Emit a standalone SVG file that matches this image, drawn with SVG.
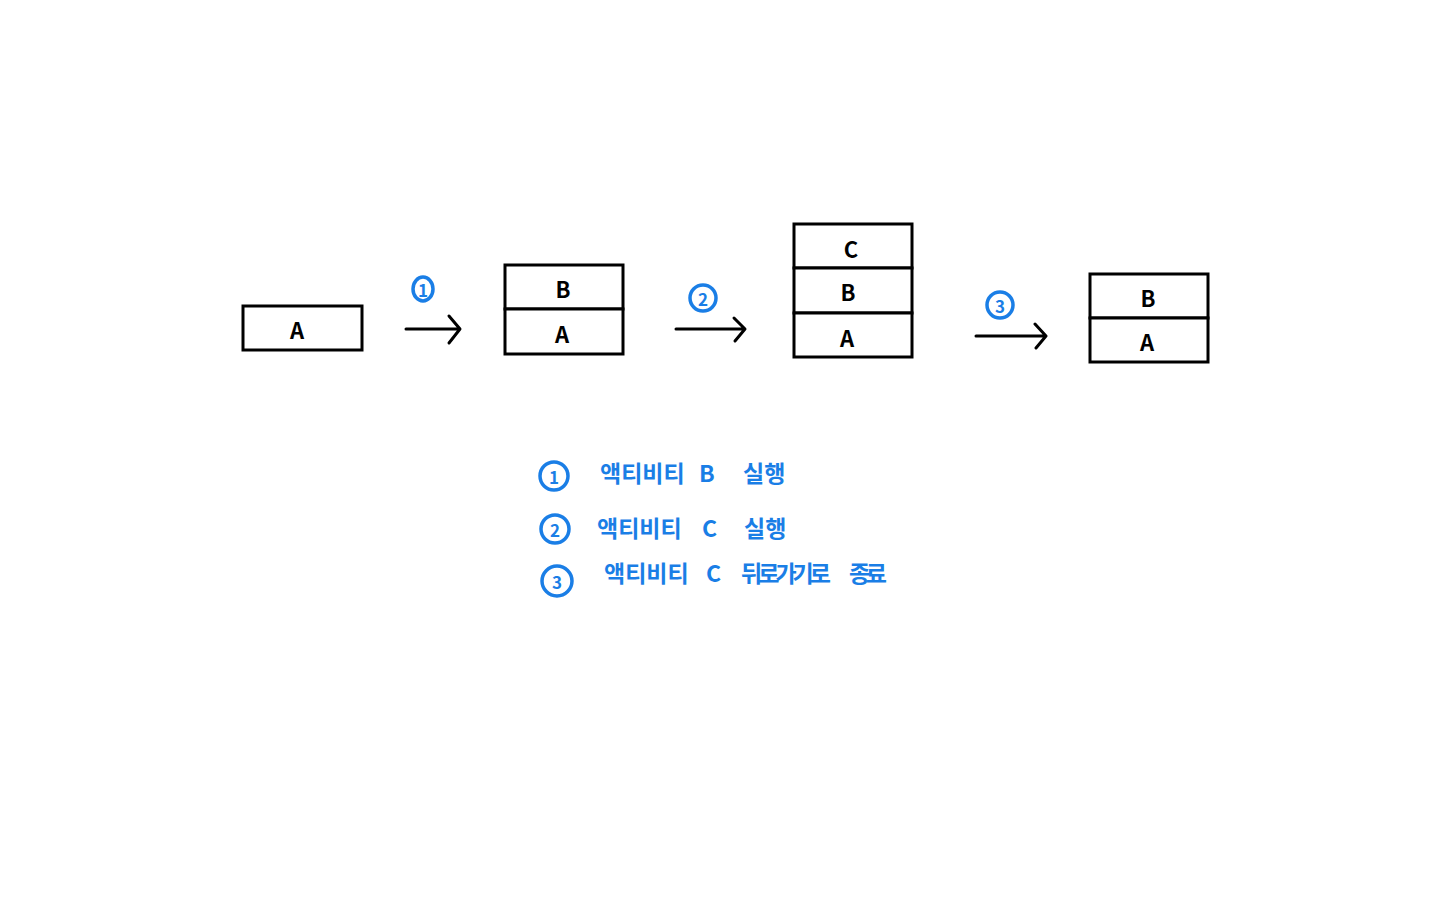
<svg xmlns="http://www.w3.org/2000/svg" width="1440" height="900" viewBox="0 0 1440 900">
<defs>
<style>
.box{fill:#fff;stroke:#000;stroke-width:3}
.lbl{font-family:"Noto Sans CJK KR","Noto Sans",sans-serif;font-weight:bold;font-size:22px;fill:#000;text-anchor:middle;dominant-baseline:central}
.conn{stroke:#000;stroke-width:3;fill:none;stroke-linecap:round;stroke-linejoin:round}
.num{fill:none;stroke:#1a7ee6;stroke-width:3.5}
.numt{font-family:"Noto Sans CJK KR","Noto Sans",sans-serif;font-weight:bold;font-size:17px;fill:#1a7ee6;text-anchor:middle;dominant-baseline:central}
.leg{font-family:"Noto Sans CJK KR","Noto Sans",sans-serif;font-weight:bold;font-size:23px;fill:#1a7ee6;dominant-baseline:central}
</style>
</defs>
<rect width="1440" height="900" fill="#fff"/>
<g id="stack1">
<rect class="box" x="243" y="306" width="119" height="44"/>
<text class="lbl" x="297" y="329">A</text>
</g>
<g id="stack2">
<rect class="box" x="505" y="265" width="118" height="44"/>
<text class="lbl" x="563" y="288">B</text>
<rect class="box" x="505" y="309" width="118" height="45"/>
<text class="lbl" x="562" y="333">A</text>
</g>
<g id="stack3">
<rect class="box" x="794" y="224" width="118" height="44"/>
<text class="lbl" x="851" y="248">C</text>
<rect class="box" x="794" y="268" width="118" height="45"/>
<text class="lbl" x="848" y="291">B</text>
<rect class="box" x="794" y="313" width="118" height="44"/>
<text class="lbl" x="847" y="337">A</text>
</g>
<g id="stack4">
<rect class="box" x="1090" y="274" width="118" height="44"/>
<text class="lbl" x="1148" y="297">B</text>
<rect class="box" x="1090" y="318" width="118" height="44"/>
<text class="lbl" x="1147" y="341">A</text>
</g>
<g id="connectors">
<path class="conn" d="M406 329 H459 M449 316 L460 329 L449 343"/>
<path class="conn" d="M676 329 H744 M734 318 L745 329 L735 341"/>
<path class="conn" d="M976 336 H1045 M1035 324 L1046 336 L1036 348"/>
</g>
<g id="step-labels">
<ellipse class="num" cx="423" cy="289" rx="10" ry="12"/>
<text class="numt" x="423" y="289">1</text>
<circle class="num" cx="703" cy="298" r="13"/>
<text class="numt" x="703" y="298">2</text>
<circle class="num" cx="1000" cy="305" r="13"/>
<text class="numt" x="1000" y="305">3</text>
</g>
<g id="legend">
<circle class="num" cx="554" cy="476" r="14"/>
<text class="numt" x="554" y="476">1</text>
<text class="leg" y="472"><tspan x="600">액티비티</tspan><tspan x="699">B</tspan><tspan x="743">실행</tspan></text>
<circle class="num" cx="555" cy="529" r="14"/>
<text class="numt" x="555" y="529">2</text>
<text class="leg" y="527"><tspan x="597">액티비티</tspan><tspan x="702">C</tspan><tspan x="744">실행</tspan></text>
<circle class="num" cx="557" cy="581" r="15"/>
<text class="numt" x="557" y="581">3</text>
<text class="leg" y="572"><tspan x="604">액티비티</tspan><tspan x="706">C</tspan><tspan x="741" textLength="90">뒤로가기로</tspan><tspan x="849" textLength="38">종료</tspan></text>
</g>
</svg>
